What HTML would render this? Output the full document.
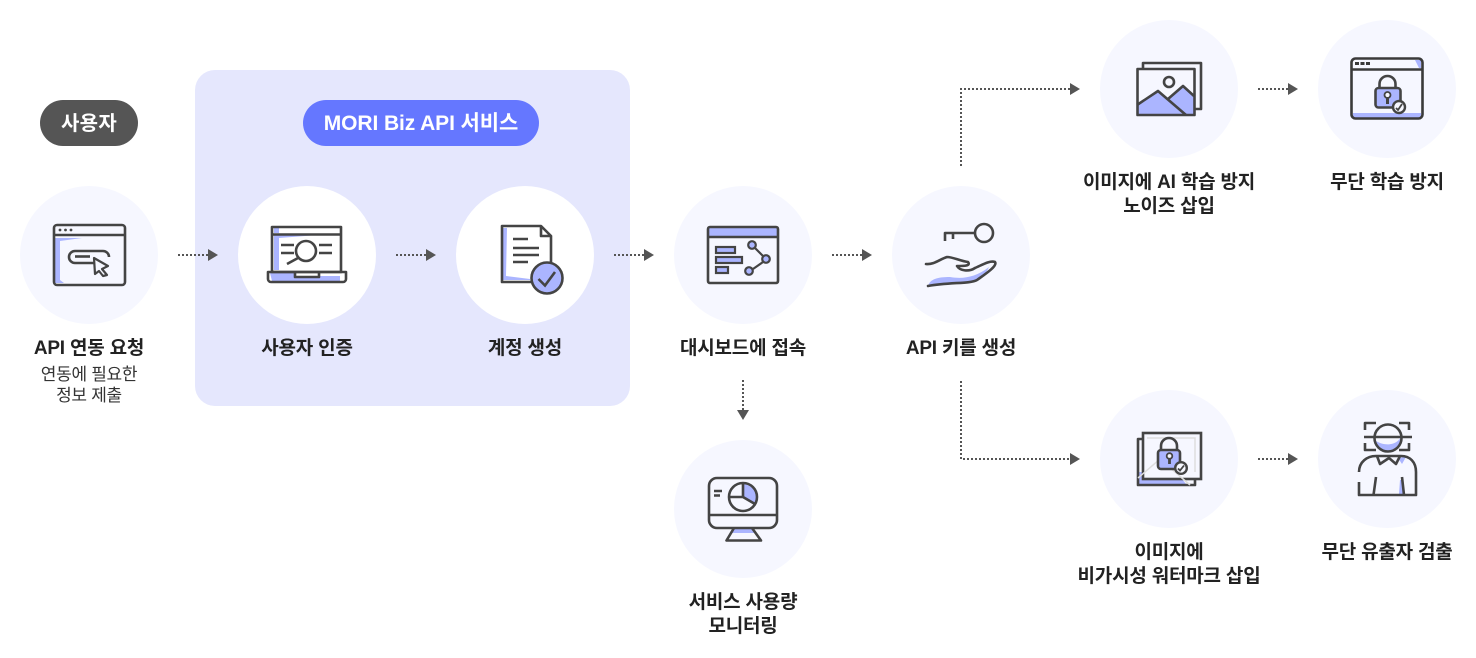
<!DOCTYPE html>
<html lang="ko"><head><meta charset="utf-8"><style>
html,body{margin:0;padding:0;background:#fff;width:1476px;height:658px;overflow:hidden}
svg{display:block}
text{font-family:"Liberation Sans","Noto Sans CJK KR",sans-serif;text-anchor:middle}
.l{font-size:19px;font-weight:700;fill:#222;letter-spacing:-.2px}
.s{font-size:17px;font-weight:400;fill:#333;letter-spacing:-.3px}
.p{font-size:20px;font-weight:700;fill:#fff;letter-spacing:.3px}
.m{font-size:21px;font-weight:700;fill:#fff;letter-spacing:-.1px}
.d{fill:none;stroke:#555;stroke-width:2;stroke-dasharray:2 2}
.i{fill:none;stroke:#444;stroke-width:2.600;stroke-linejoin:round}
.b{fill:#abb5ff;stroke:none}
.c{fill:#f6f7ff}
</style></head><body>
<svg width="1476" height="658" viewBox="0 0 1476 658" xmlns="http://www.w3.org/2000/svg">
<rect x="195" y="70" width="435" height="336" rx="20" fill="#e5e7fd"/>
<rect x="40" y="100" width="98" height="46" rx="23" fill="#555"/>
<rect x="303" y="100" width="236" height="46" rx="23" fill="#6577ff"/>
<text class="p" x="89" y="130">사용자</text>
<text class="m" x="421" y="130">MORI Biz API 서비스</text>

<circle class="c" cx="89" cy="255" r="69"/>
<circle cx="307" cy="255" r="69" fill="#fff"/>
<circle cx="525" cy="255" r="69" fill="#fff"/>
<circle class="c" cx="743" cy="255" r="69"/>
<circle class="c" cx="961" cy="255" r="69"/>
<circle class="c" cx="1169" cy="89" r="69"/>
<circle class="c" cx="1387" cy="89" r="69"/>
<circle class="c" cx="1169" cy="459" r="69"/>
<circle class="c" cx="1387" cy="459" r="69"/>
<circle class="c" cx="743" cy="509" r="69"/>

<!-- arrows -->
<g>
<path class="d" d="M178 255H208M396 255H426M614 255H644M832 255H862M1258 89H1288M1258 459H1288M961 166V89H1070M961 381V459H1070M743 380V411"/>
<g fill="#555">
<path d="M208 249L218 255L208 261ZM426 249L436 255L426 261ZM644 249L654 255L644 261ZM862 249L872 255L862 261Z"/>
<path d="M1288 83L1298 89L1288 95ZM1288 453L1298 459L1288 465ZM1070 83L1080 89L1070 95ZM1070 453L1080 459L1070 465ZM737 410L749 410L743 420Z"/>
</g>
</g>

<!-- icon 1 -->
<path class="b" d="M55 238H82L60 241V280L64 283H55Z"/>
<rect class="i" x="54" y="225" width="71" height="60" rx="3"/>
<path class="i" d="M54 235H125"/>
<g fill="#444"><circle cx="60" cy="230" r="1.400"/><circle cx="65.500" cy="230" r="1.400"/><circle cx="71" cy="230" r="1.400"/></g>
<path class="i" d="M94 263H75a6 6 0 0 1 0-12H103a6 6 0 0 1 6 6"/>
<path class="i" d="M75 256.500H90"/>
<path d="M94 258L108 266L102 269L107 275L103 276L99 271L95 274Z" fill="#f6f7ff" stroke="#444" stroke-width="2.200" stroke-linejoin="round"/>

<!-- icon 2 -->
<path class="b" d="M274 235H318L279 238V270H274ZM274 227H279V233H274ZM270 273H294V276H340V281H272Z"/>
<rect class="i" x="272" y="227" width="69" height="45"/>
<path class="i" d="M272 234.500H341"/>
<path class="i" d="M268 272H346V279a3 3 0 0 1-3 3H271a3 3 0 0 1-3-3Z"/>
<path class="i" d="M295 272V277H319V272"/>
<circle class="i" cx="306" cy="251" r="10"/>
<path class="i" d="M298 258L287 264M281 245H294M281 253H294M319 245H332M319 253H332"/>

<!-- icon 3 -->
<path class="b" d="M503 228H507L506 276L530 279V280H503Z"/>
<path class="i" d="M541 226H502V282H532M551 236V264M541 226L551 236H541Z"/>
<path class="i" d="M513 239H528M513 248H539M513 255H539M513 262H528"/>
<circle cx="547" cy="278" r="15.500" fill="#abb5ff" stroke="#444" stroke-width="2.600"/>
<path d="M538.500 279L545 285.500L555 272" fill="none" stroke="#444" stroke-width="2.600"/>

<!-- icon 4 -->
<rect class="b" x="709" y="228" width="68" height="9"/>
<rect class="i" x="708" y="227" width="70" height="56" rx="2"/>
<path class="i" d="M708 237H778"/>
<g fill="#abb5ff" stroke="#444" stroke-width="2.200"><rect x="716" y="247" width="19" height="6"/><rect x="716" y="257" width="26" height="6"/><rect x="716" y="267" width="12" height="6"/>
<path d="M755 248L763 256M763 262L753 269" fill="none"/>
<circle cx="752" cy="245" r="3.800"/><circle cx="766" cy="259" r="3.800"/><circle cx="749" cy="271" r="3.800"/></g>

<!-- icon 5 -->
<circle class="i" cx="984" cy="233" r="9"/>
<path class="i" d="M975 233H945V241M953 233V239"/>
<path class="b" d="M928 286C930 279 938 277 950 277C962 279 975 278 989 267C986 274 978 282 970 282L945 283Z"/>
<path d="M926 264C934 265 940 259 947 257C953 257 960 261 968 262C971 266 964 266 957 266C960 271 969 272 975 268C982 265 990 260 995 262C998 266 984 275 977 280C970 284 950 282 928 286" fill="none" stroke="#444" stroke-width="2.600" stroke-linecap="round" stroke-linejoin="round"/>

<!-- icon 6 -->
<path class="i" d="M1143 69V63H1201V109H1194"/>
<path class="b" d="M1137 105L1158 91L1168 99L1183 86L1194 96V115H1137Z"/>
<rect class="i" x="1137.500" y="69" width="57" height="46"/>
<circle class="i" cx="1169" cy="82" r="5"/>
<path class="i" d="M1137 105L1158 91L1186 115M1168 99L1183 86L1194 96"/>

<!-- icon 7 -->
<path class="b" d="M1353 113H1421V116L1418 118H1356L1353 116ZM1415 60H1421V68H1419Z"/>
<rect fill="none" stroke="#3a3a3a" stroke-width="2.600" x="1351.500" y="58.500" width="71" height="60" rx="4"/>
<path fill="none" stroke="#3a3a3a" stroke-width="2.400" d="M1351 69.500H1423"/>
<path fill="none" stroke="#3a3a3a" stroke-width="3" stroke-dasharray="4 1.500" d="M1355 63.500H1370"/>
<path class="i" d="M1379.500 88V84a8 8 0 0 1 16 0V88"/>
<rect x="1375.500" y="88" width="25" height="19.500" rx="3" fill="#abb5ff" stroke="#444" stroke-width="2.600"/>
<circle cx="1387.500" cy="95" r="3" fill="#f6f7ff" stroke="#444" stroke-width="1.800"/>
<path d="M1387.500 97V104" stroke="#444" stroke-width="3"/>
<circle cx="1399" cy="107" r="6" fill="#f6f7ff" stroke="#444" stroke-width="2.400"/>
<path d="M1396 108L1398 110L1402 104" fill="none" stroke="#444" stroke-width="1.800"/>

<!-- icon 8 -->
<path class="b" d="M1139 472L1144 472V479L1182 479L1186 484H1139Z"/>
<path class="i" d="M1143 439H1138V485H1195V479"/>
<rect x="1143" y="433" width="58" height="46" fill="#f6f7ff" stroke="#444" stroke-width="2.600"/>
<path d="M1147 438H1195V472M1138 478L1160 459L1190 485" fill="none" stroke="#ddd" stroke-width="1.500"/>
<path class="i" d="M1161 450V446a8 8 0 0 1 16 0V450"/>
<rect x="1158" y="450" width="22" height="19" rx="3" fill="#abb5ff" stroke="#444" stroke-width="2.600"/>
<circle cx="1169.500" cy="456" r="2.800" fill="#f6f7ff" stroke="#444" stroke-width="1.800"/>
<path d="M1169.500 458V464" stroke="#444" stroke-width="2.800"/>
<circle cx="1181" cy="468" r="5.800" fill="#f6f7ff" stroke="#444" stroke-width="2.400"/>
<path d="M1178 468.500L1180 470.500L1184 465.500" fill="none" stroke="#444" stroke-width="1.800"/>

<!-- icon 9 -->
<path class="b" d="M1376 441C1384 446 1396 446 1401 437C1402 444 1396 451 1388 451C1382 451 1378 447 1376 441ZM1398 458L1406 457L1402 464ZM1400 480L1403 480L1405 494H1399Z"/>
<circle class="i" cx="1388" cy="438" r="13.500"/>
<path class="i" d="M1364 437H1412M1376 423H1365V430M1399 423H1409V430M1365 443V450H1376M1409 443V450H1399"/>
<path class="i" d="M1359 472C1359 462 1367 456 1376 456H1401C1410 456 1416 462 1416 472V495H1359V482"/>
<path class="i" d="M1377 456L1380 464L1389 458L1396 464L1400 456M1376 477L1373.500 495M1402 477L1404 495"/>

<!-- icon 10 -->
<path class="b" d="M733 529H752L755 533H731Z"/>
<path class="b" d="M743 484A14 14 0 0 1 755 504L743 497Z"/>
<rect class="i" x="709" y="478" width="68" height="50" rx="8"/>
<path class="i" d="M709 515H777M734 528L726.500 540.500H761L752 528"/>
<circle class="i" cx="743" cy="497" r="14"/>
<path class="i" d="M729 497H743V483M743 497L755 504M714 491H722M714 495.500H720"/>

<!-- labels -->
<text class="l" x="89" y="354">API 연동 요청</text>
<text class="s" x="89" y="380">연동에 필요한</text>
<text class="s" x="89" y="401">정보 제출</text>
<text class="l" x="307" y="354">사용자 인증</text>
<text class="l" x="525" y="354">계정 생성</text>
<text class="l" x="743" y="354">대시보드에 접속</text>
<text class="l" x="961" y="354">API 키를 생성</text>
<text class="l" x="1169" y="188">이미지에 AI 학습 방지</text>
<text class="l" x="1169" y="212">노이즈 삽입</text>
<text class="l" x="1387" y="188">무단 학습 방지</text>
<text class="l" x="1169" y="558">이미지에</text>
<text class="l" x="1169" y="582">비가시성 워터마크 삽입</text>
<text class="l" x="1387" y="558">무단 유출자 검출</text>
<text class="l" x="743" y="608">서비스 사용량</text>
<text class="l" x="743" y="632">모니터링</text>
</svg>
</body></html>
